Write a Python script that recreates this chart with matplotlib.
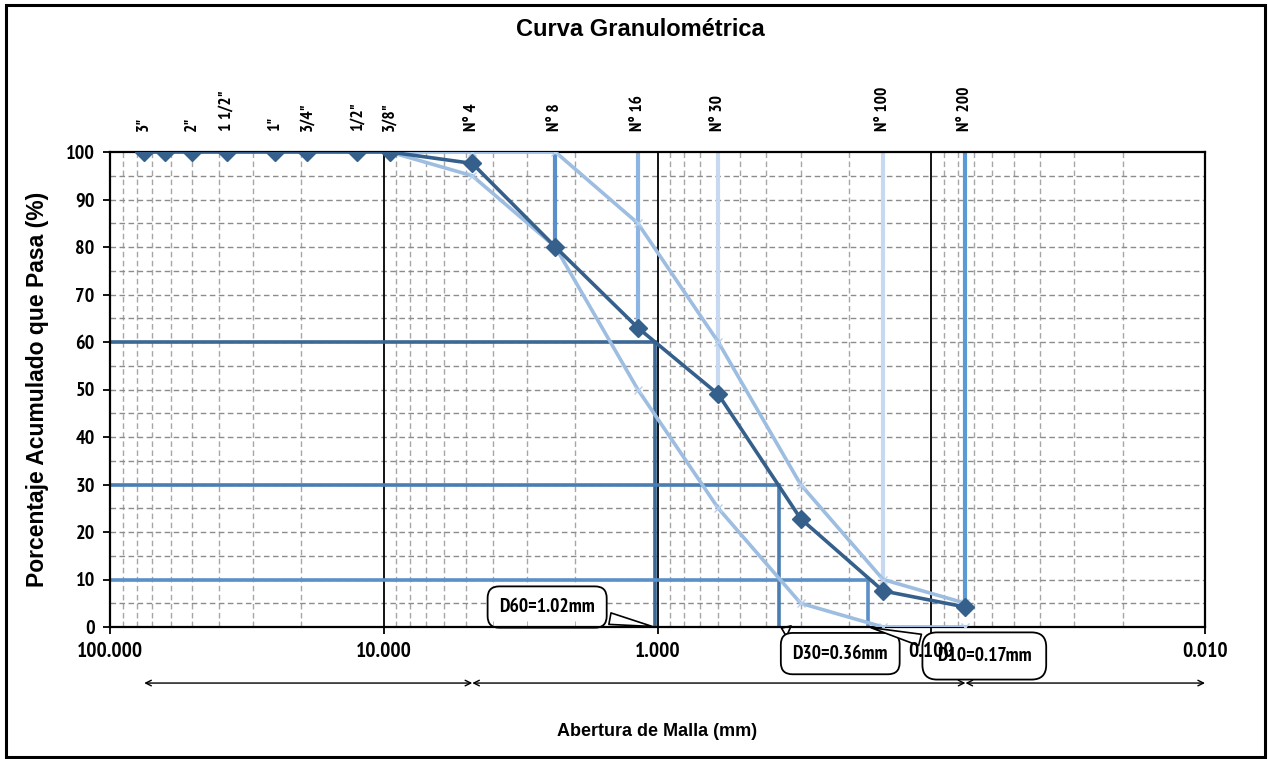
import matplotlib
matplotlib.use("Agg")
import matplotlib.pyplot as plt
from matplotlib import font_manager as fm
from matplotlib.patches import Rectangle
import numpy as np

# sieve openings (mm) and % passing for the sample
sieve_mm = [75, 63, 50, 37.5, 25, 19, 12.5, 9.5, 4.75, 2.36, 1.18, 0.6, 0.3, 0.15, 0.075]
passing = [100, 100, 100, 100, 100, 100, 100, 100, 97.6, 80, 63, 49, 22.8, 7.6, 4.2]
top_labels = ['3"', '', '2"', '1 1/2"', '1"', '3/4"', '1/2"', '3/8"',
              'N° 4', 'N° 8', 'N° 16', 'N° 30', '', 'N° 100', 'N° 200']

# specification band
band_mm = [9.5, 4.75, 2.36, 1.18, 0.6, 0.3, 0.15, 0.075]
band_upper = [100, 100, 100, 85, 60, 30, 10, 5]
band_lower = [100, 95, 80, 50, 25, 5, 0, 0]

# drop lines from 100% to the curve
drop_mm = [2.36, 1.18, 0.6, 0.15, 0.075]
drop_pct = [80, 63, 49, 7.6, 4.2]
drop_col = ['#5B8FCB', '#8DB4E2', '#C6D9F0', '#C6D9F0', '#5B9BD5']

# effective sizes
d_pct = [60, 30, 10]
d_mm = [1.02, 0.36, 0.17]
d_text = ['D60=1.02mm', 'D30=0.36mm', 'D10=0.17mm']
d_col = ['#3C6894', '#4A7DB3', '#5B8FC7']

# soil fraction limits (arrows under the axis)
frac_mm = [75, 4.75, 0.075, 0.01]


# look for a narrow bold face (Arial Narrow look-alike), heaviest first
def narrow_font():
    cands = []
    for f in fm.fontManager.ttflist:
        w = f.weight if isinstance(f.weight, int) else (700 if 'bold' in str(f.weight) else 400)
        if w < 600 or f.style != 'normal':
            continue
        if 'Narrow' in f.name or 'Narrow' in f.fname:
            cands.append((0, -w, f.fname))
        elif f.stretch in ('condensed', 'semi-condensed') or 'Condensed' in f.fname:
            cands.append((1, -w, f.fname))
    cands.sort()
    return cands[0][2] if cands else None


nf = narrow_font()
plt.rcParams['font.family'] = ['Liberation Sans', 'DejaVu Sans']


def nprop(size):
    if nf:
        return fm.FontProperties(fname=nf, size=size)
    return fm.FontProperties(family='Liberation Sans', weight='bold', size=size * 0.9)


fig = plt.figure(figsize=(12.68, 7.59), dpi=100)
W, H = 1268, 759
ax = fig.add_axes([110 / W, 1 - 627 / H, 1095 / W, 475 / H])

ax.set_xscale('log')
ax.set_xlim(100, 0.01)
ax.set_ylim(0, 100)

# grid
minor = [m * 10.0 ** e for e in range(-2, 2) for m in range(2, 10)]
for x in minor:
    ax.axvline(x, color='#A6A6A6', lw=1, ls=(0, (4, 2.5)), zorder=0)
for x in [10, 1, 0.1]:
    ax.axvline(x, color='black', lw=1.3, zorder=1)
for y in range(5, 100, 5):
    ax.axhline(y, color='#8C8C8C', lw=1, ls=(0, (4, 2.5)), zorder=0)

# D lines
for p, d, c in zip(d_pct, d_mm, d_col):
    ax.plot([100, d, d], [p, p, 0], color=c, lw=2.6, zorder=2, solid_joinstyle='miter')

# drop lines
for d, p, c in zip(drop_mm, drop_pct, drop_col):
    ax.plot([d, d], [100, p], color=c, lw=3, zorder=2)

# band
ax.plot(band_mm, band_upper, color='#9DBDE1', lw=2.6, marker='x', ms=6,
        mec='#B8D0EC', zorder=3)
ax.plot(band_mm, band_lower, color='#9DBDE1', lw=2.6, marker='x', ms=6,
        mec='#B8D0EC', zorder=3)

# sample curve
ax.plot(sieve_mm, passing, color='#35608C', lw=2.6, marker='D', ms=9, zorder=4)

# ticks
ax.set_yticks(range(0, 101, 10))
ax.set_xticks([100, 10, 1, 0.1, 0.01])
ax.set_xticklabels(['100.000', '10.000', '1.000', '0.100', '0.010'])
ax.set_xticks(minor, minor=True)
ax.tick_params(axis='x', which='minor', direction='in', length=4, color='#A6A6A6',
               labelbottom=False)
ax.tick_params(axis='both', which='major', direction='out', length=5, width=1.3,
               pad=6)
for lab in ax.get_xticklabels():
    lab.set_fontproperties(nprop(15.5))
for lab in ax.get_yticklabels():
    lab.set_fontproperties(nprop(14.5))
for s in ax.spines.values():
    s.set_linewidth(1.6)

# sieve names on top
for d, t in zip(sieve_mm, top_labels):
    if t:
        ax.text(d, 104.5, t, rotation=90, ha='center', va='bottom',
                fontproperties=nprop(12.5))

# callouts (drawn under the tick labels, as in the original)
boxes = [(2.53, 4.2), (0.215, -5.6), (0.064, -6.1)]
pads = [0.6, 0.6, 0.75]
for (bx, by), d, t, pd in zip(boxes, d_mm, d_text, pads):
    ax.annotate(t, xy=(d, 0), xytext=(bx, by), ha='center', va='center',
                fontproperties=nprop(14),
                annotation_clip=False, zorder=1.4,
                bbox=dict(boxstyle='round,pad=%s' % pd, fc='white', ec='black', lw=1.3),
                arrowprops=dict(arrowstyle='wedge,tail_width=0.6', fc='white',
                                ec='black', lw=1.2))

# fraction arrows
for a, b in zip(frac_mm[:-1], frac_mm[1:]):
    ax.annotate('', xy=(b, -11.8), xytext=(a, -11.8), annotation_clip=False,
                arrowprops=dict(arrowstyle='<->', color='black', lw=1,
                                shrinkA=0, shrinkB=0))

fig.text(640 / W, 1 - 30 / H, 'Curva Granulométrica', ha='center', va='center',
         fontsize=17, fontweight='bold')
ax.set_ylabel('Porcentaje Acumulado que Pasa (%)', fontsize=16.5, fontweight='bold',
              labelpad=12)
fig.text(657 / W, 1 - 732 / H, 'Abertura de Malla (mm)', ha='center', va='center',
         fontsize=13, fontweight='bold')

fig.patches.append(Rectangle((6 / W, 2 / H), 1259 / W, 752 / H, transform=fig.transFigure,
                             fill=False, ec='black', lw=2.2))

fig.savefig('out.png', dpi=100)
